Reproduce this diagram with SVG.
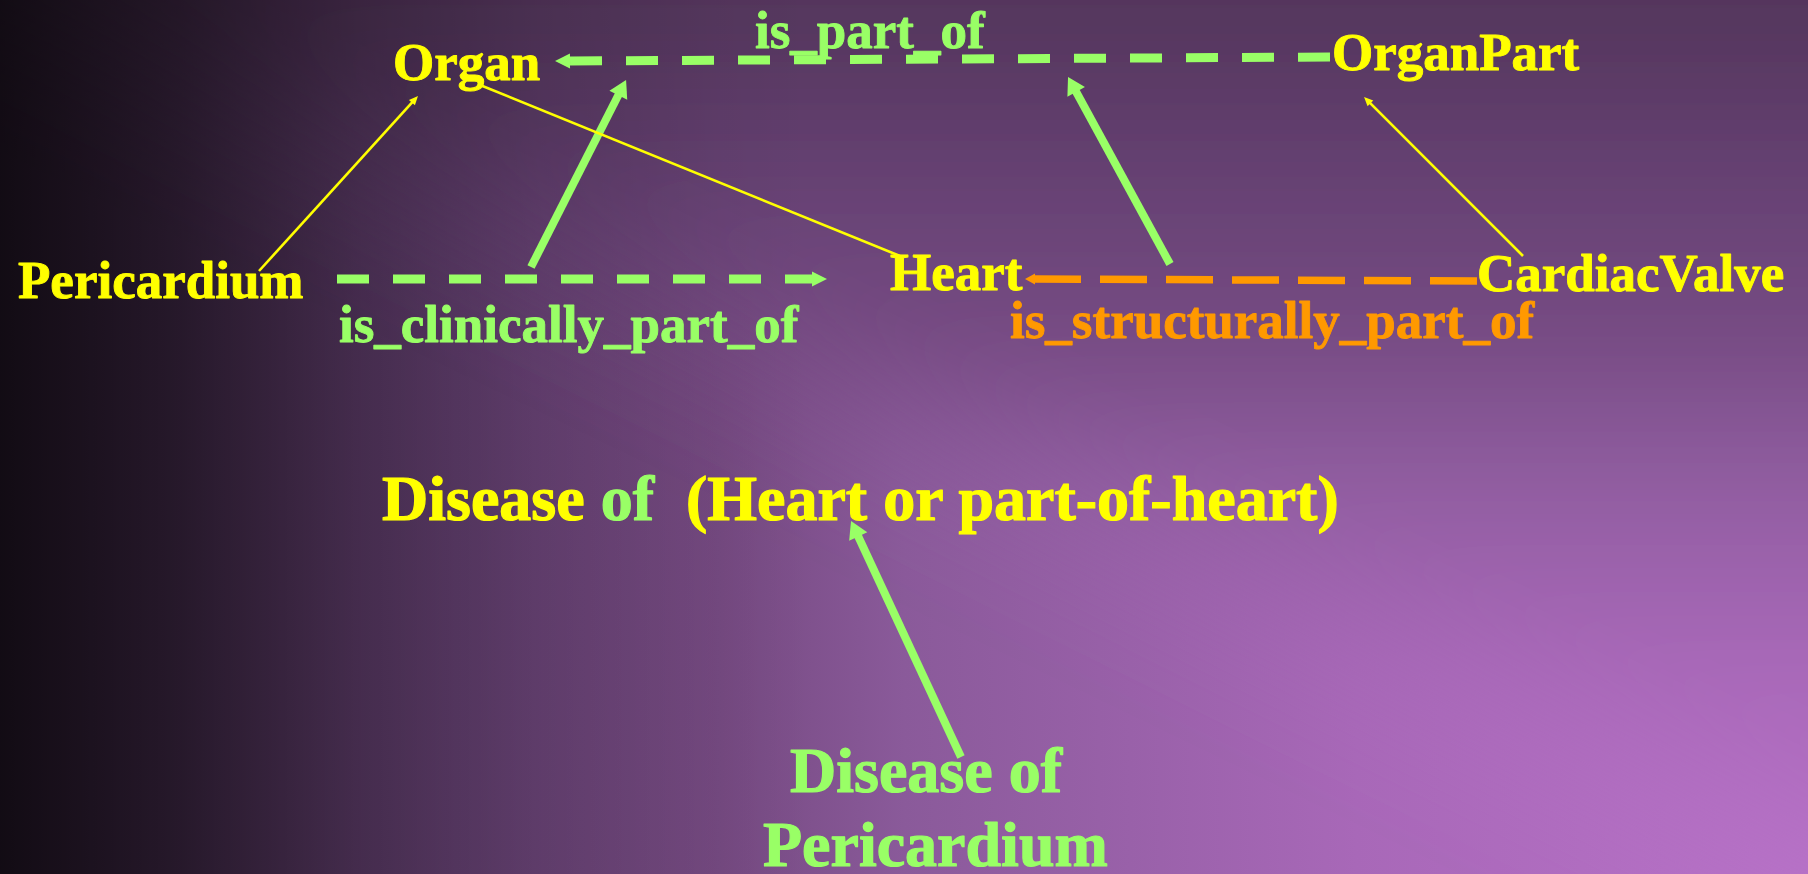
<svg xmlns="http://www.w3.org/2000/svg" width="1808" height="874" viewBox="0 0 1808 874">
<style>
  text { font-family: "Liberation Serif", "Times New Roman", serif; font-weight: bold; stroke-width: 0.9; stroke-linejoin: round; }
  .node { font-size: 53px; fill: #ffff00; stroke: #ffff00; }
  .lbl { font-size: 53px; }
  .big { font-size: 64px; stroke-width: 1.2; }
  .yel { fill: #ffff00; stroke: #ffff00; }
  .grn { fill: #99ff66; stroke: #99ff66; }
  .org { fill: #ff9900; stroke: #ff9900; }
  .dashG { stroke: #99ff66; stroke-width: 9; fill: none; stroke-dasharray: 32 24; }
  .dashO { stroke: #ff9900; stroke-width: 7.5; fill: none; stroke-dasharray: 47 19; }
  .thickG { stroke: #99ff66; stroke-width: 8; fill: none; }
  .thinY { stroke: #ffff00; stroke-width: 2.6; fill: none; }
</style>
<defs>
  <linearGradient id="bgH" x1="0" y1="0" x2="1808" y2="0" gradientUnits="userSpaceOnUse">
    <stop offset="0" stop-color="#52345a"/>
    <stop offset="0.25" stop-color="#6a4478"/>
    <stop offset="0.4" stop-color="#764a82"/>
    <stop offset="0.5" stop-color="#8a5a9a"/>
    <stop offset="0.75" stop-color="#a868b8"/>
    <stop offset="1" stop-color="#b872c8"/>
  </linearGradient>
  <linearGradient id="bgV" x1="0" y1="0" x2="0" y2="874" gradientUnits="userSpaceOnUse">
    <stop offset="0" stop-color="#52345a"/>
    <stop offset="0.25" stop-color="#6a4478"/>
    <stop offset="0.4" stop-color="#764a82"/>
    <stop offset="0.5" stop-color="#8a5a9a"/>
    <stop offset="0.75" stop-color="#a868b8"/>
    <stop offset="1" stop-color="#b872c8"/>
  </linearGradient>
  <linearGradient id="bgDark" x1="0" y1="0" x2="1808" y2="0" gradientUnits="userSpaceOnUse">
    <stop offset="0" stop-color="#000" stop-opacity="0.78"/>
    <stop offset="0.1" stop-color="#000" stop-opacity="0.58"/>
    <stop offset="0.2" stop-color="#000" stop-opacity="0.32"/>
    <stop offset="0.3" stop-color="#000" stop-opacity="0.14"/>
    <stop offset="0.4" stop-color="#000" stop-opacity="0.03"/>
    <stop offset="0.45" stop-color="#000" stop-opacity="0"/>
  </linearGradient>
  <filter id="soft" filterUnits="userSpaceOnUse" x="-800" y="-600" width="3600" height="2400">
    <feGaussianBlur stdDeviation="60"/>
  </filter>
  <marker id="arrG" markerUnits="userSpaceOnUse" markerWidth="20" markerHeight="16" refX="0" refY="7.5" orient="auto" overflow="visible">
    <path d="M0,0 L15,7.5 L0,15 z" fill="#99ff66"/>
  </marker>
  <marker id="arrO" markerUnits="userSpaceOnUse" markerWidth="12" markerHeight="12" refX="0" refY="5.5" orient="auto" overflow="visible">
    <path d="M0,0 L10,5.5 L0,11 z" fill="#ff9900"/>
  </marker>
  <marker id="arrThick" markerUnits="userSpaceOnUse" markerWidth="20" markerHeight="20" refX="1" refY="10" orient="auto" overflow="visible">
    <path d="M0,0 L17,10 L0,20 z" fill="#99ff66"/>
  </marker>
  <marker id="arrY" markerUnits="userSpaceOnUse" markerWidth="10" markerHeight="10" refX="1" refY="4" orient="auto" overflow="visible">
    <path d="M0,0 L9,4 L0,8 z" fill="#ffff00"/>
  </marker>
</defs>

<rect x="0" y="0" width="1808" height="874" fill="url(#bgH)"/>
<polygon points="-600,-290 2500,-290 2500,1208.5" fill="url(#bgV)" filter="url(#soft)"/>
<rect x="0" y="0" width="1808" height="874" fill="url(#bgDark)"/>

<g id="connectors">
  <line class="dashG" x1="1330" y1="57" x2="570" y2="61" marker-end="url(#arrG)"/>
  <line class="dashG" x1="337" y1="279" x2="812" y2="279" marker-end="url(#arrG)"/>
  <line class="dashO" x1="1477" y1="281" x2="1035" y2="279" marker-end="url(#arrO)"/>
  <line class="thickG" x1="531" y1="267" x2="618.8" y2="94.3" marker-end="url(#arrThick)"/>
  <line class="thickG" x1="1170" y1="264" x2="1075.7" y2="91" marker-end="url(#arrThick)"/>
  <line class="thickG" x1="961" y1="757" x2="857.8" y2="535.5" marker-end="url(#arrThick)"/>
  <line class="thinY" x1="259" y1="271" x2="412.6" y2="101.9" marker-end="url(#arrY)"/>
  <line class="thinY" x1="1523" y1="256" x2="1369.7" y2="102.7" marker-end="url(#arrY)"/>
  <line class="thinY" x1="480" y1="85" x2="900" y2="256"/>
  <text class="lbl grn" x="755" y="48">is_part_of</text>
  <text class="lbl grn" x="339" y="342">is_clinically_part_of</text>
  <text class="lbl org" x="1010" y="338">is_structurally_part_of</text>
</g>

<g id="organ"><text class="node" x="393" y="80">Organ</text></g>
<g id="organpart"><text class="node" x="1332" y="70">OrganPart</text></g>
<g id="pericardium"><text class="node" x="18" y="298">Pericardium</text></g>
<g id="heart"><text class="node" x="890" y="290">Heart</text></g>
<g id="cardiacvalve"><text class="node" x="1477" y="291">CardiacValve</text></g>
<g id="disease-heart"><text class="big yel" x="382" y="520" xml:space="preserve">Disease<tspan class="grn"> of</tspan>  (Heart or part-of-heart)</text></g>
<g id="disease-pericardium">
  <text class="big grn" x="790" y="792">Disease of</text>
  <text class="big grn" x="763" y="866">Pericardium</text>
</g>
</svg>
